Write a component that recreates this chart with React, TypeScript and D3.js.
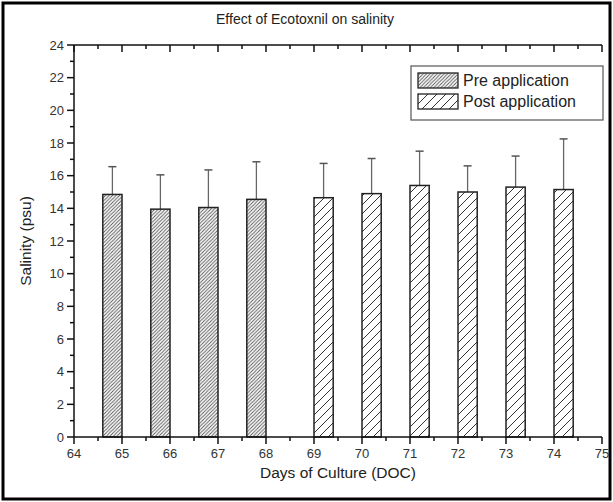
import React, { useEffect, useRef } from 'react';
import * as d3 from 'd3';

// days of culture, one slot per day
const days = [65, 66, 67, 68, 69, 70, 71, 72, 73, 74];
// pre application (days 65-68)
const preDays = [65, 66, 67, 68];
const preMean = [14.85, 13.95, 14.05, 14.55];
const preSd = [1.7, 2.1, 2.3, 2.3];
// post application (days 69-74)
const postDays = [69, 70, 71, 72, 73, 74];
const postMean = [14.65, 14.9, 15.4, 15.0, 15.3, 15.15];
const postSd = [2.1, 2.15, 2.1, 1.6, 1.9, 3.1];

const yTicks = d3.range(0, 25, 2);
const xTicks = d3.range(64, 76, 1);
const legendLabels = ['Pre application', 'Post application'];

const W = 613;
const H = 502;
const FONT = 'Arial, "Liberation Sans", sans-serif';

const App = () => {
  const svgRef = useRef(null);

  useEffect(() => {
    document.body.style.margin = '0';
    const svg = d3.select(svgRef.current);
    svg.selectAll('*').remove();

    const x = d3.scaleLinear().domain([64, 75]).range([74, 602]);
    const y = d3.scaleLinear().domain([0, 24]).range([437, 45]);
    const barW = x(64.4) - x(64);

    // hatch patterns
    const defs = svg.append('defs');
    const mkPattern = (id, size, sw, col) => {
      const p = defs.append('pattern')
        .attr('id', id)
        .attr('patternUnits', 'userSpaceOnUse')
        .attr('width', size)
        .attr('height', size);
      p.append('rect').attr('width', size).attr('height', size).attr('fill', '#fff');
      p.append('path')
        .attr('d', `M0,${size} L${size},0 M${-size / 2},${size / 2} L${size / 2},${-size / 2} M${size / 2},${size * 1.5} L${size * 1.5},${size / 2}`)
        .attr('stroke', col)
        .attr('stroke-width', sw);
    };
    mkPattern('hatchPre', 3.5, 0.9, '#555');
    mkPattern('hatchPost', 9, 1, '#333');

    // outer frame
    svg.append('rect')
      .attr('x', 3).attr('y', 3)
      .attr('width', W - 6).attr('height', H - 6)
      .attr('fill', 'none')
      .attr('stroke', '#000')
      .attr('stroke-width', 3);

    // title
    svg.append('text')
      .attr('x', 305).attr('y', 24)
      .attr('text-anchor', 'middle')
      .attr('font-family', FONT)
      .attr('font-size', 14)
      .attr('fill', '#222')
      .text('Effect of Ecotoxnil on salinity');

    // bars
    const drawSeries = (ds, means, sds, offset, pat) => {
      const g = svg.append('g');
      ds.forEach((d, i) => {
        const x0 = x(d + offset);
        g.append('line')
          .attr('x1', x0 + barW / 2).attr('x2', x0 + barW / 2)
          .attr('y1', y(means[i])).attr('y2', y(means[i] + sds[i]))
          .attr('stroke', '#666').attr('stroke-width', 1.3);
        g.append('line')
          .attr('x1', x0 + barW / 2 - 4).attr('x2', x0 + barW / 2 + 4)
          .attr('y1', y(means[i] + sds[i])).attr('y2', y(means[i] + sds[i]))
          .attr('stroke', '#555').attr('stroke-width', 1.5);
        g.append('rect')
          .attr('x', x0).attr('y', y(means[i]))
          .attr('width', barW).attr('height', y(0) - y(means[i]))
          .attr('fill', `url(#${pat})`)
          .attr('stroke', '#222')
          .attr('stroke-width', 1.5);
      });
    };
    drawSeries(preDays, preMean, preSd, -0.4, 'hatchPre');
    drawSeries(postDays, postMean, postSd, 0, 'hatchPost');

    // axes
    const xMinor = d3.range(64.5, 75, 1);
    const yMinor = d3.range(1, 24, 2);

    const axisG = svg.append('g').attr('stroke', '#111').attr('stroke-width', 1.5);
    axisG.append('line').attr('x1', x(64)).attr('x2', x(75)).attr('y1', y(0)).attr('y2', y(0));
    axisG.append('line').attr('x1', x(64)).attr('x2', x(75)).attr('y1', y(24)).attr('y2', y(24));
    axisG.append('line').attr('x1', x(64)).attr('x2', x(64)).attr('y1', y(0)).attr('y2', y(24));

    xTicks.forEach(t => {
      axisG.append('line').attr('x1', x(t)).attr('x2', x(t)).attr('y1', y(0)).attr('y2', y(0) + 7);
      axisG.append('line').attr('x1', x(t)).attr('x2', x(t)).attr('y1', y(24)).attr('y2', y(24) + 7);
    });
    xMinor.forEach(t => {
      axisG.append('line').attr('x1', x(t)).attr('x2', x(t)).attr('y1', y(0)).attr('y2', y(0) + 4);
      axisG.append('line').attr('x1', x(t)).attr('x2', x(t)).attr('y1', y(24)).attr('y2', y(24) + 4);
    });
    yTicks.forEach(t => {
      axisG.append('line').attr('x1', x(64) - 7).attr('x2', x(64)).attr('y1', y(t)).attr('y2', y(t));
    });
    yMinor.forEach(t => {
      axisG.append('line').attr('x1', x(64) - 4).attr('x2', x(64)).attr('y1', y(t)).attr('y2', y(t));
    });

    svg.append('g').selectAll('text')
      .data(xTicks)
      .enter()
      .append('text')
      .attr('x', d => x(d))
      .attr('y', y(0) + 21)
      .attr('text-anchor', 'middle')
      .attr('font-family', FONT)
      .attr('font-size', 13)
      .attr('fill', '#333')
      .text(d => d);

    svg.append('g').selectAll('text')
      .data(yTicks)
      .enter()
      .append('text')
      .attr('x', x(64) - 10)
      .attr('y', d => y(d) + 4.5)
      .attr('text-anchor', 'end')
      .attr('font-family', FONT)
      .attr('font-size', 13)
      .attr('fill', '#333')
      .text(d => d);

    // axis titles
    svg.append('text')
      .attr('x', 338).attr('y', 478)
      .attr('text-anchor', 'middle')
      .attr('font-family', FONT)
      .attr('font-size', 15.5)
      .attr('fill', '#222')
      .text('Days of Culture (DOC)');

    svg.append('text')
      .attr('transform', `translate(31,${y(12)}) rotate(-90)`)
      .attr('text-anchor', 'middle')
      .attr('font-family', FONT)
      .attr('font-size', 15.5)
      .attr('fill', '#222')
      .text('Salinity (psu)');

    // legend
    const lg = svg.append('g');
    lg.append('rect')
      .attr('x', 411).attr('y', 66)
      .attr('width', 192).attr('height', 54)
      .attr('fill', '#fff')
      .attr('stroke', '#555')
      .attr('stroke-width', 1.2);
    legendLabels.forEach((lab, i) => {
      lg.append('rect')
        .attr('x', 418).attr('y', 73 + i * 21)
        .attr('width', 40).attr('height', 15)
        .attr('fill', `url(#${i === 0 ? 'hatchPre' : 'hatchPost'})`)
        .attr('stroke', '#222')
        .attr('stroke-width', 1.3);
      lg.append('text')
        .attr('x', 463).attr('y', 86 + i * 21)
        .attr('font-family', FONT)
        .attr('font-size', 16)
        .attr('fill', '#222')
        .text(lab);
    });
  }, []);

  return (
    <svg
      ref={svgRef}
      width={W}
      height={H}
      style={{ display: 'block', background: '#fff' }}
    />
  );
};

export default App;
